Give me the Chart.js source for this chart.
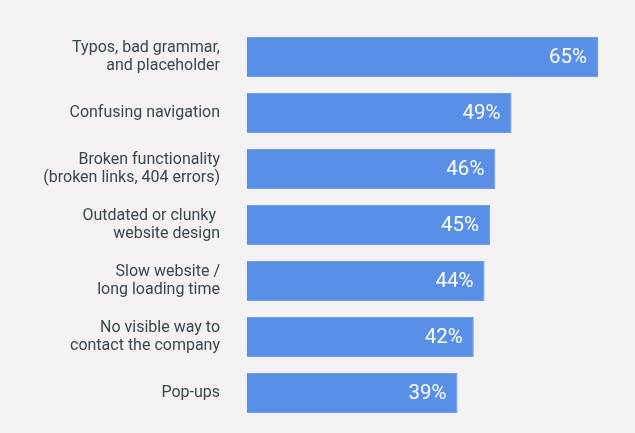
<!DOCTYPE html>
<html>
<head>
<meta charset="utf-8">
<script src="https://cdn.jsdelivr.net/npm/chart.js@4"></script>
<style>
  html, body { margin: 0; padding: 0; background: #f4f2f3; overflow: hidden; }
  canvas { display: block; }
</style>
</head>
<body>
<canvas id="barChart" width="635" height="433"></canvas>
<script>
// 항목 이름 (여러 줄)
const categories = [
    ['Typos, bad grammar,', 'and placeholder'],
    'Confusing navigation',
    ['Broken functionality', '(broken links, 404 errors)'],
    ['Outdated or clunky ', 'website design'],
    ['Slow website /', 'long loading time'],
    ['No visible way to', 'contact the company'],
    'Pop-ups'
];
// 비율 (%)
const percents = [65, 49, 46, 45, 44, 42, 39];

// 막대 끝에 값 표시
const valueLabels = {
    id: 'valueLabels',
    afterDatasetsDraw(chart) {
        const ctx = chart.ctx;
        const meta = chart.getDatasetMeta(0);
        ctx.save();
        ctx.fillStyle = '#ffffff';
        ctx.font = '400 20.5px Roboto';
        ctx.textAlign = 'right';
        ctx.textBaseline = 'middle';
        meta.data.forEach((bar, i) => {
            ctx.fillText(percents[i] + '%', bar.x - 11, bar.y + 1);
        });
        ctx.restore();
    }
};

const ctx = document.getElementById('barChart').getContext('2d');
new Chart(ctx, {
    type: 'bar',
    data: {
        labels: categories,
        datasets: [{
            data: percents,
            backgroundColor: '#5a8fe8',
            borderColor: '#6d9cec',
            borderWidth: 1,
            categoryPercentage: 1,
            barPercentage: 0.714
        }]
    },
    options: {
        indexAxis: 'y',
        responsive: false,
        animation: false,
        layout: { padding: { top: 29, bottom: 12, left: 0, right: 10 } },
        plugins: {
            legend: { display: false },
            tooltip: { enabled: false }
        },
        scales: {
            x: {
                display: false,
                min: 0,
                max: 70
            },
            y: {
                grid: { display: false, drawTicks: false },
                border: { display: false },
                afterFit(scale) {
                    scale.width = 247;
                    scale.paddingTop = 0;
                    scale.paddingBottom = 0;
                },
                ticks: {
                    padding: 27,
                    color: '#37474f',
                    font: { family: 'Roboto', size: 16, lineHeight: 1.1 }
                }
            }
        }
    },
    plugins: [valueLabels]
});
</script>
</body>
</html>
